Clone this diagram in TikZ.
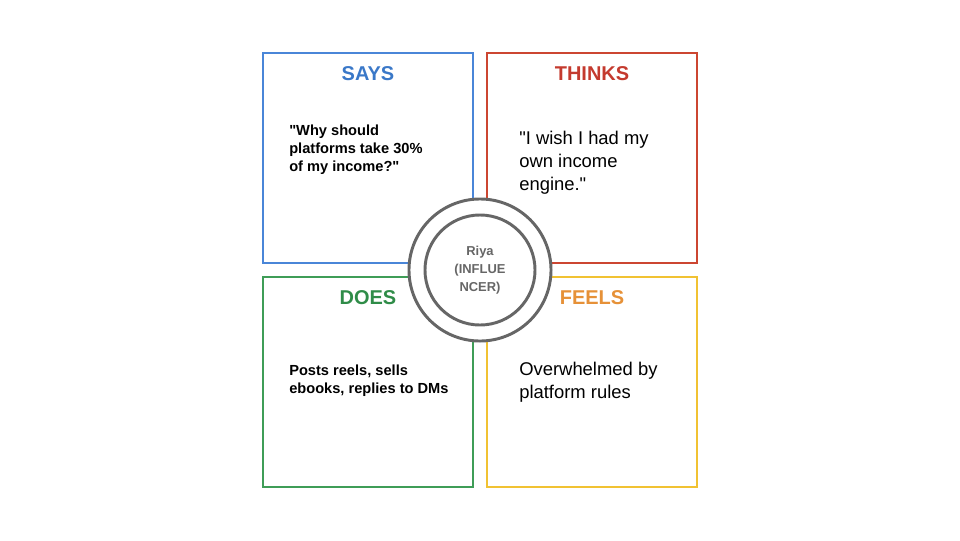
\documentclass[tikz,border=0pt]{standalone}
\usepackage{fontspec}
\setmainfont{Liberation Sans}
\newfontfamily\mapfont{Liberation Sans}
\usepackage{xcolor}
\usepackage{tikz}

\definecolor{saysblue}{HTML}{4A86D8}
\definecolor{saystext}{HTML}{3A78C8}
\definecolor{thinksred}{HTML}{CC4631}
\definecolor{thinkstext}{HTML}{C43A2E}
\definecolor{doesgreen}{HTML}{3F9D57}
\definecolor{doestext}{HTML}{2F8C48}
\definecolor{feelsyellow}{HTML}{F1C232}
\definecolor{feelstext}{HTML}{E69138}
\definecolor{ringgray}{HTML}{666666}

\tikzset{
  quad/.style={line width=2.1pt},
  head/.style={font=\mapfont\fontsize{14.2}{17}\selectfont\bfseries},
  boldbody/.style={anchor=north west, inner sep=0pt, align=left,
    font=\mapfont\fontsize{10.4}{12.8}\selectfont\bfseries},
  plainbody/.style={anchor=north west, inner sep=0pt, align=left,
    font=\mapfont\fontsize{13.1}{16.3}\selectfont},
  ring/.style={circle, draw=ringgray, line width=2.1pt, fill=white, inner sep=0pt}
}

\begin{document}
\begin{tikzpicture}[x=0.025cm, y=-0.025cm]

        \useasboundingbox (0,0) rectangle (960,540);

        %Says
        \draw [quad, draw=saysblue]  (263,53) rectangle (473,263);
        \node [head, text=saystext] (says) at (368,74) {SAYS};
        \node [boldbody] (saysbody) at (289,125) {"Why should\\platforms take 30\%\\of my income?"};
        %Thinks
        \draw [quad, draw=thinksred]  (487,53) rectangle (697,263);
        \node [head, text=thinkstext] (thinks) at (592,74) {THINKS};
        \node [plainbody] (thinksbody) at (519,131) {"I wish I had my\\own income\\engine."};
        %Does
        \draw [quad, draw=doesgreen]  (263,277) rectangle (473,487);
        \node [head, text=doestext] (does) at (368,298) {DOES};
        \node [boldbody] (doesbody) at (289,365) {Posts reels, sells\\ebooks, replies to DMs};
        %Feels
        \draw [quad, draw=feelsyellow]  (487,277) rectangle (697,487);
        \node [head, text=feelstext] (feels) at (592,298) {FEELS};
        \node [plainbody] (feelsbody) at (519,362) {Overwhelmed by\\platform rules};
        %Persona
        \node [ring, minimum size=3.55cm] (outer) at (480,270) {};
        \node [ring, minimum size=2.75cm] (inner) at (480,270) {};
        \node [align=center, text=ringgray, font=\mapfont\fontsize{9.2}{12.8}\selectfont\bfseries] (riya) at (480,270) {Riya\\(INFLUE\\NCER)};

      \end{tikzpicture}
\end{document}
